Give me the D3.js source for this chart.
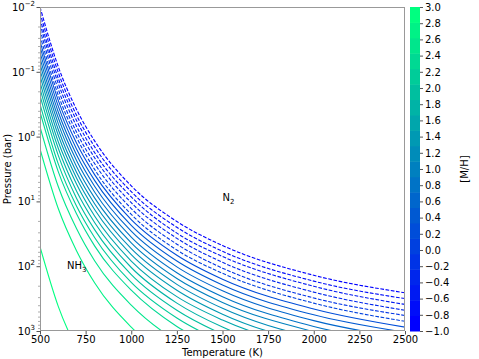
<!DOCTYPE html>
<html><head><meta charset="utf-8">
<script src="https://cdn.jsdelivr.net/npm/d3@7"></script>
<style>body{margin:0;background:#fff}svg{display:block;font-family:"DejaVu Sans",sans-serif}</style>
</head><body><svg id="c" width="479" height="359"></svg>
<script>
// ---- data ----
const temps = [500, 600, 700, 800, 1000, 1250, 1500, 2000, 2500]; // K
const metallicity = [-1.0,-0.8,-0.6,-0.4,-0.2,0.0,0.2,0.4,0.6,0.8,1.0,1.2,1.4,1.6,1.8,2.0,2.2,2.4,2.6,2.8,3.0];
// log10 pressure (bar) of NH3/N2 boundary at each temperature, one row per [M/H]
const logP = [
 [-2.00,-1.08,-0.42,0.07,0.76,1.31,1.68,2.14,2.41],
 [-1.91,-0.99,-0.33,0.16,0.85,1.40,1.77,2.23,2.50],
 [-1.82,-0.90,-0.25,0.25,0.93,1.49,1.85,2.31,2.59],
 [-1.74,-0.82,-0.16,0.33,1.02,1.57,1.94,2.40,2.68],
 [-1.65,-0.73,-0.07,0.42,1.11,1.66,2.03,2.49,2.76],
 [-1.56,-0.64,0.01,0.51,1.20,1.75,2.11,2.57,2.85],
 [-1.47,-0.56,0.10,0.59,1.28,1.83,2.20,2.66,2.94],
 [-1.39,-0.47,0.19,0.68,1.37,1.92,2.29,2.75,3.02],
 [-1.30,-0.38,0.28,0.77,1.46,2.01,2.38,2.84,3.11],
 [-1.21,-0.29,0.37,0.86,1.55,2.10,2.47,2.93,3.20],
 [-1.12,-0.20,0.46,0.95,1.64,2.19,2.56,3.01,3.29],
 [-1.03,-0.11,0.55,1.04,1.73,2.28,2.65,3.11,3.38],
 [-0.94,-0.02,0.64,1.13,1.82,2.37,2.74,3.20,3.47],
 [-0.84,0.08,0.73,1.23,1.92,2.47,2.83,3.29,3.57],
 [-0.74,0.18,0.84,1.33,2.02,2.57,2.94,3.39,3.67],
 [-0.63,0.29,0.95,1.44,2.13,2.68,3.05,3.50,3.78],
 [-0.50,0.42,1.07,1.56,2.25,2.80,3.17,3.63,3.91],
 [-0.38,0.54,1.19,1.69,2.37,2.93,3.29,3.75,4.03],
 [-0.15,0.77,1.42,1.92,2.60,3.16,3.52,3.98,4.26],
 [0.19,1.11,1.76,2.26,2.94,3.50,3.86,4.32,4.60],
 [1.70,2.62,3.27,3.77,4.45,5.01,5.37,5.83,6.11]
];
const xTicks = [500, 750, 1000, 1250, 1500, 1750, 2000, 2250, 2500];
const yTicks = [1e-2, 1e-1, 1e0, 1e1, 1e2, 1e3];
const yTickExp = ["−2","−1","0","1","2","3"];
const cbTicks = [-1.0,-0.8,-0.6,-0.4,-0.2,0.0,0.2,0.4,0.6,0.8,1.0,1.2,1.4,1.6,1.8,2.0,2.2,2.4,2.6,2.8,3.0];
const regionLabels = [{name:"N", sub:"2", T:1500, P:10}, {name:"NH", sub:"3", T:648, P:110}];

// ---- layout ----
const L = 40, R = 405, Tp = 7, B = 331;
const svg = d3.select("#c");
const x = d3.scaleLinear().domain([500, 2500]).range([L, R]);
const y = d3.scaleLog().domain([1e-2, 1e3]).range([Tp, B]);
const winter = t => d3.rgb(0, Math.round(255 * t), Math.round(255 * (1 - 0.5 * t))).toString();
const cnorm = d3.scaleLinear().domain([-1, 3]).range([0, 1]);

svg.append("defs").append("clipPath").attr("id", "clip")
  .append("rect").attr("x", L).attr("y", Tp).attr("width", R - L).attr("height", B - Tp);

const line = d3.line().x(d => x(d[0])).y(d => y(d[1])).curve(d3.curveMonotoneX);
const g = svg.append("g").attr("clip-path", "url(#clip)");
metallicity.forEach((m, i) => {
  const pts = temps.map((t, k) => [t, Math.pow(10, logP[i][k])]);
  g.append("path").attr("d", line(pts)).attr("fill", "none")
    .attr("stroke", winter(cnorm(m))).attr("stroke-width", 1.1)
    .attr("stroke-dasharray", m <= 0.0001 ? "3.7,1.6" : null);
});

// region labels
regionLabels.forEach(r => {
  const t = svg.append("text").attr("x", x(r.T)).attr("y", y(r.P)).attr("font-size", 10).attr("fill", "#000");
  t.append("tspan").text(r.name);
  t.append("tspan").attr("font-size", 7).attr("dy", 3).text(r.sub);
});

// frame
svg.append("rect").attr("x", L + 0.5).attr("y", Tp + 0.5).attr("width", R - L - 1).attr("height", B - Tp - 1)
  .attr("fill", "none").attr("stroke", "#999").attr("stroke-width", 1);

// x axis
const xa = svg.append("g").attr("transform", `translate(0,${B})`)
  .call(d3.axisBottom(x).tickValues(xTicks).tickSize(3.5).tickPadding(1).tickFormat(d3.format("d")));
xa.select(".domain").remove();
xa.selectAll("line").attr("stroke", "#555");
xa.selectAll("text").attr("font-size", 10).attr("fill", "#000").attr("font-family", "DejaVu Sans");

// y axis
const ya = svg.append("g").attr("transform", `translate(${L},0)`)
  .call(d3.axisLeft(y).tickValues(yTicks).tickSize(3.5).tickPadding(2).tickFormat(""));
ya.select(".domain").remove();
ya.selectAll("line").attr("stroke", "#555");
ya.selectAll(".tick").each(function(d, i) {
  const t = d3.select(this).append("text").attr("x", -5).attr("dy", "0.35em")
    .attr("text-anchor", "end").attr("font-size", 10).attr("fill", "#000").attr("font-family", "DejaVu Sans");
  t.append("tspan").text("10");
  t.append("tspan").attr("font-size", 7).attr("dy", -5).text(yTickExp[i]);
});
const minor = [];
for (let e = -2; e < 3; e++) for (let k = 2; k <= 9; k++) minor.push(k * Math.pow(10, e));
const ym = svg.append("g").attr("transform", `translate(${L},0)`)
  .call(d3.axisLeft(y).tickValues(minor).tickSize(2).tickFormat(""));
ym.select(".domain").remove();
ym.selectAll("line").attr("stroke", "#777").attr("stroke-width", 0.6);

// axis titles
svg.append("text").attr("x", (L + R) / 2).attr("y", 356).attr("text-anchor", "middle")
  .attr("font-size", 10).text("Temperature (K)");
svg.append("text").attr("transform", `translate(11,${(Tp + B) / 2}) rotate(-90)`).attr("text-anchor", "middle")
  .attr("font-size", 10).text("Pressure (bar)");

// colorbar
const cbL = 410, cbW = 10;
const cy = d3.scaleLinear().domain([-1, 3]).range([B, Tp]);
const nb = metallicity.length;
const step = 4 / nb;
d3.range(nb).forEach(i => {
  const v0 = -1 + i * step, v1 = v0 + step;
  svg.append("rect").attr("x", cbL).attr("width", cbW).attr("y", cy(v1)).attr("height", cy(v0) - cy(v1) + 0.5)
    .attr("fill", winter(i / (nb - 1)));
});
const ca = svg.append("g").attr("transform", `translate(${cbL + cbW},0)`)
  .call(d3.axisRight(cy).tickValues(cbTicks).tickSize(3).tickPadding(2).tickFormat(d3.format(".1f")));
ca.select(".domain").remove();
ca.selectAll("line").attr("stroke", "#555");
ca.selectAll("text").attr("font-size", 10).attr("fill", "#000").attr("font-family", "DejaVu Sans");
svg.append("text").attr("transform", `translate(468,${(Tp + B) / 2}) rotate(-90)`).attr("text-anchor", "middle")
  .attr("font-size", 10).text("[M/H]");
</script></body></html>
